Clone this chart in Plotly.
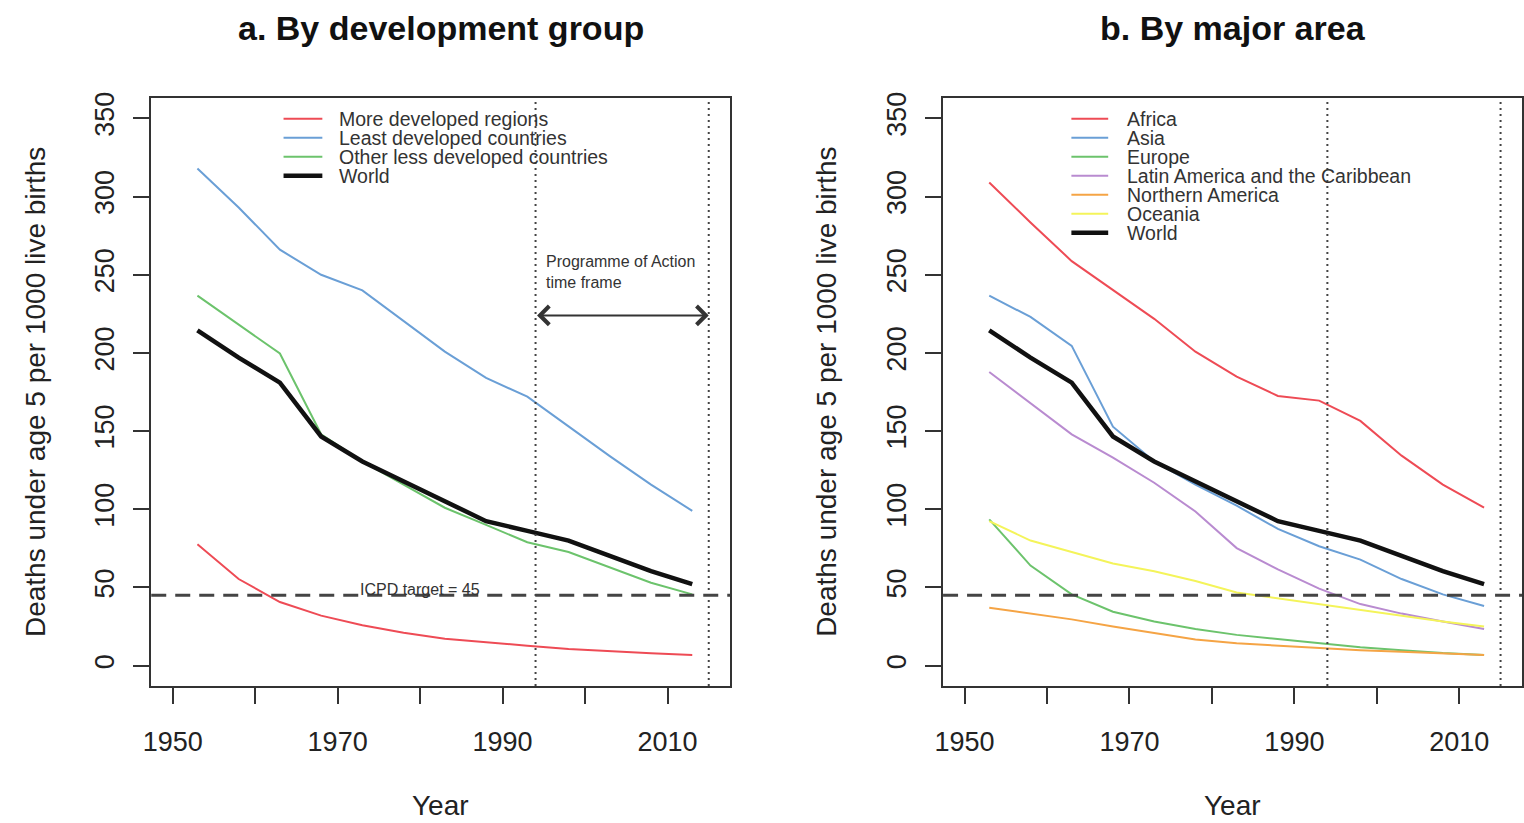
import plotly.graph_objects as go

W, H = 1524, 823

years = [1953, 1958, 1963, 1968, 1973, 1978, 1983, 1988, 1993, 1998, 2003, 2008, 2013]

# Panel a: by development group
more_developed = [77.6, 55.4, 40.7, 32.0, 25.9, 21.0, 17.2, 14.8, 12.8, 10.6, 9.1, 7.9, 6.9]
least_developed = [317.9, 293.0, 266.0, 250.0, 240.0, 220.5, 200.8, 184.0, 172.0, 153.0, 134.0, 115.8, 99.0]
other_less_developed = [236.6, 218.0, 199.6, 148.0, 130.6, 115.8, 101.0, 90.0, 78.9, 72.7, 62.8, 53.0, 45.6]
world = [214.4, 197.0, 181.0, 146.6, 130.6, 118.0, 104.7, 92.4, 86.2, 80.0, 70.2, 60.4, 52.2]

# Panel b: by major area
africa = [309.0, 283.4, 258.7, 240.3, 221.8, 200.8, 184.8, 172.5, 169.5, 156.5, 134.3, 115.8, 101.0]
asia = [236.6, 223.0, 204.5, 152.8, 130.6, 115.8, 102.3, 87.5, 76.4, 67.8, 55.4, 45.6, 38.2]
europe = [93.6, 64.0, 45.6, 34.5, 28.3, 23.4, 19.7, 17.2, 14.3, 11.8, 9.9, 8.1, 6.9]
latin_america = [187.8, 167.6, 147.9, 133.0, 117.0, 98.6, 75.2, 61.6, 49.3, 39.4, 33.3, 28.3, 23.4]
northern_america = [37.0, 33.3, 29.6, 25.1, 21.0, 16.8, 14.3, 12.8, 11.1, 9.9, 8.9, 8.1, 6.9]
oceania = [92.4, 80.0, 72.7, 65.3, 60.4, 54.2, 46.8, 43.1, 39.4, 35.7, 32.0, 28.3, 25.1]

icpd_target = 45
poa_start, poa_end = 1994, 2015
x_ticks = [1950, 1960, 1970, 1980, 1990, 2000, 2010]
x_tick_labels = ["1950", "", "1970", "", "1990", "", "2010"]
y_ticks = [0, 50, 100, 150, 200, 250, 300, 350]
y_tick_labels = ["0", "50", "100", "150", "200", "250", "300", "350"]

RED = "#EE4B55"
BLUE = "#6A9FD6"
GREEN = "#6CC36C"
PURPLE = "#B98BD0"
ORANGE = "#F5A445"
YELLOW = "#F4F45A"
BLACK = "#111111"
AXIS = "#333333"
FONT = "Liberation Sans, Arial, sans-serif"

series_a = [
    ("More developed regions", more_developed, RED, 2),
    ("Least developed countries", least_developed, BLUE, 2),
    ("Other less developed countries", other_less_developed, GREEN, 2),
    ("World", world, BLACK, 4.5),
]
series_b = [
    ("Africa", africa, RED, 2),
    ("Asia", asia, BLUE, 2),
    ("Europe", europe, GREEN, 2),
    ("Latin America and the Caribbean", latin_america, PURPLE, 2),
    ("Northern America", northern_america, ORANGE, 2),
    ("Oceania", oceania, YELLOW, 2),
    ("World", world, BLACK, 4.5),
]


def px_x(px):
    return px / W


def px_y(py):
    return 1 - py / H


fig = go.Figure()

for name, vals, col, lw in series_a:
    fig.add_trace(go.Scatter(x=years, y=vals, mode="lines", name=name,
                             line=dict(color=col, width=lw), xaxis="x", yaxis="y",
                             showlegend=False))
for name, vals, col, lw in series_b:
    fig.add_trace(go.Scatter(x=years, y=vals, mode="lines", name=name,
                             line=dict(color=col, width=lw), xaxis="x2", yaxis="y2",
                             showlegend=False))

xr = [1947.4, 2017.6]
yr = [-13, 363]
dom_y = [px_y(685), px_y(92.7)]

xaxis_common = dict(range=xr, tickmode="array", tickvals=x_ticks, ticktext=x_tick_labels,
                    ticks="outside", ticklen=16, tickwidth=2, tickcolor=AXIS,
                    showline=True, linecolor=AXIS, linewidth=2, mirror=True,
                    showgrid=False, zeroline=False,
                    tickfont=dict(family=FONT, size=27, color="#222"),
                    ticklabelstandoff=15)
yaxis_common = dict(range=yr, tickmode="array", tickvals=y_ticks, ticktext=y_tick_labels,
                    ticks="outside", ticklen=16, tickwidth=2, tickcolor=AXIS,
                    showline=True, linecolor=AXIS, linewidth=2, mirror=True,
                    showgrid=False, zeroline=False, tickangle=-90,
                    tickfont=dict(family=FONT, size=27, color="#222"),
                    ticklabelstandoff=8, domain=dom_y)

fig.update_layout(
    width=W, height=H, autosize=False,
    margin=dict(l=0, r=0, t=0, b=0),
    paper_bgcolor="white", plot_bgcolor="white",
    showlegend=False,
    font=dict(family=FONT, color="#222"),
    xaxis=dict(domain=[px_x(144), px_x(726)], anchor="y", **xaxis_common),
    yaxis=dict(anchor="x", **yaxis_common),
    xaxis2=dict(domain=[px_x(940), px_x(1522)], anchor="y2", **xaxis_common),
    yaxis2=dict(anchor="x2", **yaxis_common),
)

shapes = []
annotations = []
for xa, ya in [("x", "y"), ("x2", "y2")]:
    # ICPD target line
    shapes.append(dict(type="line", xref=f"{xa} domain", yref=ya, x0=0, x1=1,
                       y0=icpd_target, y1=icpd_target,
                       line=dict(color="#444", width=3, dash="15px,9px")))
    for v in (poa_start, poa_end):
        shapes.append(dict(type="line", xref=xa, yref=f"{ya} domain", x0=v, x1=v,
                           y0=0, y1=1, line=dict(color="#444", width=2, dash="2px,4px")))

# Annotations panel a
annotations.append(dict(x=poa_end, y=224, ax=poa_start, ay=224, xref="x", yref="y",
                        axref="x", ayref="y", text="", showarrow=True,
                        arrowhead=4, startarrowhead=4, arrowside="end+start",
                        arrowsize=1.8, arrowwidth=2, arrowcolor="#333",
                        standoff=0, startstandoff=0))
annotations.append(dict(x=1995, y=251.5, xref="x", yref="y",
                        text="Programme of Action<br>time frame", showarrow=False,
                        xanchor="left", yanchor="middle", align="left",
                        font=dict(family=FONT, size=16, color="#333")))
annotations.append(dict(x=1980, y=icpd_target, xref="x", yref="y",
                        text="ICPD target = 45", showarrow=False,
                        xanchor="center", yanchor="bottom", yshift=-5,
                        font=dict(family=FONT, size=16, color="#333")))

# Titles
for txt, cx in [("a. By development group", 435), ("b. By major area", 1231)]:
    annotations.append(dict(x=px_x(cx), y=px_y(22), xref="paper", yref="paper",
                            text=f"<b>{txt}</b>", showarrow=False,
                            xanchor="center", yanchor="middle",
                            font=dict(family=FONT, size=34, color="#111")))
# Axis titles
for cx in (435, 1231):
    annotations.append(dict(x=px_x(cx), y=px_y(805), xref="paper", yref="paper",
                            text="Year", showarrow=False, xanchor="center", yanchor="middle",
                            font=dict(family=FONT, size=28, color="#222")))
for cx in (27, 822):
    annotations.append(dict(x=px_x(cx), y=px_y(389), xref="paper", yref="paper",
                            text="Deaths under age 5 per 1000 live births", showarrow=False,
                            textangle=-90, xanchor="center", yanchor="middle",
                            font=dict(family=FONT, size=28, color="#222")))

# Legends (drawn as swatches + text)
def add_legend(series, sw_x0, sw_x1, tx, y0, dy):
    for i, (name, vals, col, lw) in enumerate(series):
        yy = y0 + i * dy
        shapes.append(dict(type="line", xref="paper", yref="paper",
                           x0=px_x(sw_x0), x1=px_x(sw_x1), y0=px_y(yy), y1=px_y(yy),
                           line=dict(color=col, width=lw)))
        annotations.append(dict(x=px_x(tx), y=px_y(yy), xref="paper", yref="paper",
                                text=name, showarrow=False, xanchor="left", yanchor="middle",
                                font=dict(family=FONT, size=19.5, color="#333")))

add_legend(series_a, 277, 316, 331, 113.7, 19.1)
add_legend(series_b, 1069, 1106, 1123, 113.7, 19.1)

fig.update_layout(shapes=shapes, annotations=annotations)
fig.write_html("out.html", config={"displayModeBar": False},
               post_script="document.body.style.margin='0';document.body.style.overflow='hidden';")
